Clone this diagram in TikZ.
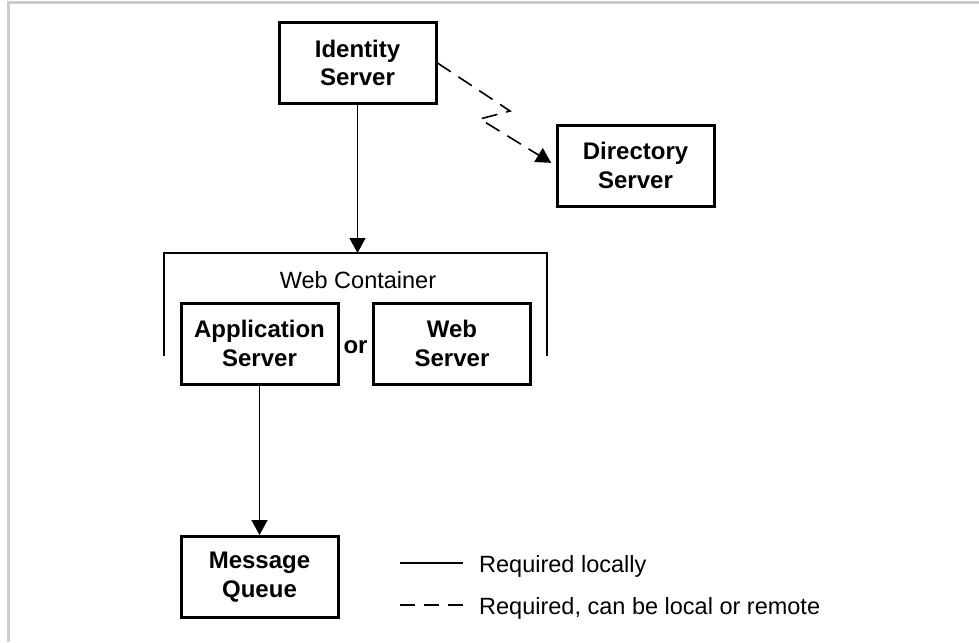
\documentclass[tikz,border=0pt]{standalone}
\usepackage{fontspec}
\setmainfont{Liberation Sans}
\usetikzlibrary{arrows.meta}
\begin{document}
\begin{tikzpicture}[x=1pt,y=-1pt,
  box/.style={draw,line width=3pt,minimum width=157pt,minimum height=81pt,inner sep=0pt,align=center,
    font=\fontsize{24}{28.5}\selectfont\bfseries},
  lbl/.style={inner sep=0pt,font=\fontsize{23.5}{28}\selectfont},
  conn/.style={line width=1.6pt},
  tip/.style={-{Triangle[width=16pt,length=15pt]}},
  dsh/.style={dash pattern=on 16pt off 9pt}
]
\useasboundingbox (0,0) rectangle (979,642);
% frame
\draw[line width=3pt,color=black!20] (8.5,642) -- (8.5,3) -- (979,3);
% nodes
\node[box] (ident) at (357.5,63) {Identity\\Server};
\node[box] (dir) at (635.5,165.5) {Directory\\Server};
\node[box] (app) at (259.5,343.5) {Application\\Server};
\node[box] (web) at (452,343.5) {Web\\Server};
\node[box] (mq) at (259.5,577) {Message\\Queue};
\node[lbl,font=\fontsize{24}{28}\selectfont\bfseries] (or) at (355.5,347) {or};
\node[lbl] (wc) at (358,280) {Web Container};
% bracket
\coordinate (bl) at (164,356);
\coordinate (br) at (547,356);
\coordinate (bt) at (357.5,253);
\draw[conn] (bl) -- (164,253) -- (547,253) -- (br);
% connectors
\draw[conn,tip] (ident.south) -- (bt);
\draw[conn,tip] (app.south) -- (mq.north);
\coordinate (z1) at (510,111);
\coordinate (z2) at (480,119);
\draw[conn,dsh,tip,shorten >=5pt] (ident.east) -- (z1) -- (z2) -- (dir.west);
% legend
\coordinate (s1) at (400,563);
\coordinate (s2) at (463,563);
\coordinate (d1) at (400,605);
\coordinate (d2) at (463,605);
\draw[conn] (s1) -- (s2);
\draw[conn,dash pattern=on 15pt off 9pt] (d1) -- (d2);
\node[lbl,anchor=base west] (l1) at (479,572) {Required locally};
\node[lbl,anchor=base west] (l2) at (479,614) {Required, can be local or remote};
\end{tikzpicture}
\end{document}
